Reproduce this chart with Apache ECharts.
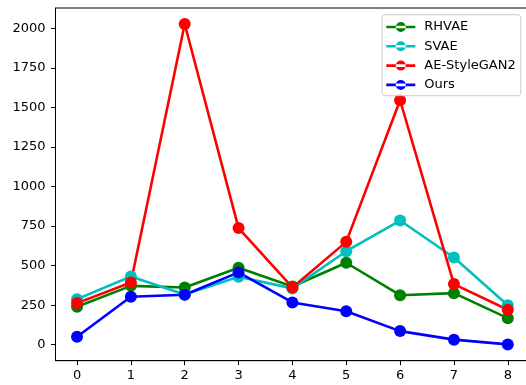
<!DOCTYPE html>
<html>
<head>
<meta charset="utf-8">
<script src="https://cdn.jsdelivr.net/npm/echarts@6/dist/echarts.min.js"></script>
<style>html,body{margin:0;padding:0;background:#fff;}#c{width:526px;height:385px;}</style>
</head>
<body>
<div id="c"></div>
<script>
const xs = [0, 1, 2, 3, 4, 5, 6, 7, 8];
const rhvae = [240, 372, 362, 486, 368, 518, 313, 326, 168];
const svae = [288, 431, 318, 429, 356, 591, 785, 551, 250];
const aeStyleGan2 = [263, 393, 2027, 737, 362, 650, 1545, 383, 221];
const ours = [50, 303, 316, 457, 267, 212, 86, 32, 2];
const xTicks = [0, 1, 2, 3, 4, 5, 6, 7, 8];
const yTicks = [0, 250, 500, 750, 1000, 1250, 1500, 1750, 2000];
const names = ['RHVAE', 'SVAE', 'AE-StyleGAN2', 'Ours'];
const colors = ['#008000', '#00bfbf', '#ff0000', '#0000ff'];
const allSeries = [rhvae, svae, aeStyleGan2, ours];

const icon = 'path://M0,3.7H29V6.3H0Z M9.5,5a5,5 0 1,0 10,0a5,5 0 1,0 -10,0Z';
const font = 'DejaVu Sans';

const chart = echarts.init(document.getElementById('c'), null, {renderer: 'canvas'});
chart.setOption({
  animation: false,
  backgroundColor: '#fff',
  textStyle: {fontFamily: font},
  grid: {left: 55.5, width: 473.8, top: 8, bottom: 24.3, containLabel: false, outerBoundsMode: 'none', show: true, borderColor: '#000', borderWidth: 1, backgroundColor: 'transparent'},
  legend: {
    orient: 'vertical', left: 382, top: 14.7,
    padding: [5.8, 5, 4.3, 4.3],
    itemWidth: 29, itemHeight: 10, itemGap: 6.3,
    icon: icon,
    selectedMode: false,
    backgroundColor: 'rgba(255,255,255,0.8)',
    borderColor: '#cccccc', borderWidth: 1, borderRadius: 3,
    textStyle: {fontFamily: font, fontSize: 13, color: '#000', lineHeight: 13, padding: [0, 0, 0, 4]},
    data: names
  },
  xAxis: {
    type: 'value', min: -0.4, max: 8.4,
    splitLine: {show: false},
    axisLine: {show: true, onZero: false, lineStyle: {color: '#000', width: 1}},
    axisTick: {show: true, length: 4.5, lineStyle: {color: '#000'}, customValues: xTicks},
    axisLabel: {fontFamily: font, fontSize: 13, color: '#000', margin: 8, customValues: xTicks, formatter: v => String(v)}
  },
  yAxis: {
    type: 'value', min: -101, max: 2128,
    splitLine: {show: false},
    axisLine: {show: true, onZero: false, lineStyle: {color: '#000', width: 1}},
    axisTick: {show: true, length: 4.5, lineStyle: {color: '#000'}, customValues: yTicks},
    axisLabel: {fontFamily: font, fontSize: 13, color: '#000', margin: 10, customValues: yTicks, formatter: v => String(v)}
  },
  series: allSeries.map((vals, i) => ({
    name: names[i],
    type: 'line',
    data: xs.map((x, j) => [x, vals[j]]),
    symbol: 'circle', symbolSize: 12,
    color: colors[i],
    lineStyle: {color: colors[i], width: 2.6},
    itemStyle: {color: colors[i]},
    emphasis: {disabled: true}
  }))
});
</script>
</body>
</html>
